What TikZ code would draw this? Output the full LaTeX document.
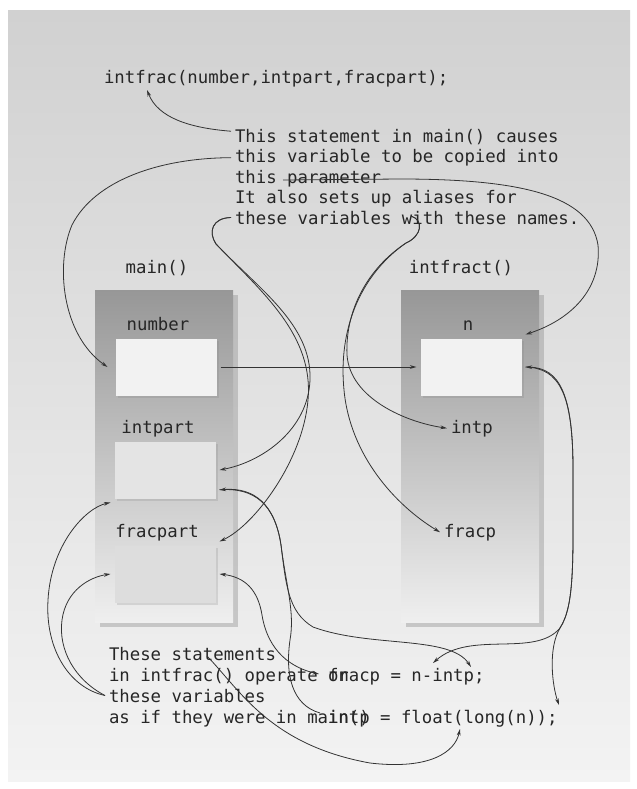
\documentclass[tikz,border=0pt]{standalone}
\usepackage{fontspec}
\setmonofont{DejaVu Sans Mono}
\usetikzlibrary{arrows.meta,shadows}
\definecolor{panelTop}{HTML}{D1D1D1}
\definecolor{panelBot}{HTML}{F3F3F3}
\definecolor{frameTop}{HTML}{979797}
\definecolor{frameBot}{HTML}{EFEFEF}
\definecolor{cellA}{HTML}{F2F2F2}
\definecolor{cellB}{HTML}{E4E4E4}
\definecolor{cellC}{HTML}{DDDDDD}
\definecolor{codeInk}{HTML}{262626}
\definecolor{linkInk}{HTML}{333333}

\tikzset{
  code/.style={font=\ttfamily\fontsize{13}{15.6}\selectfont,text=codeInk,
               inner sep=0pt,outer sep=3pt},
  stackbox/.style={minimum width=103.5pt,minimum height=249pt,
               top color=frameTop,bottom color=frameBot,
               drop shadow={shadow xshift=3.5pt,shadow yshift=-3.5pt,opacity=.35}},
  cell/.style={minimum width=75.75pt,minimum height=42.75pt,outer sep=3pt,
               drop shadow={shadow xshift=1.5pt,shadow yshift=-2pt,opacity=.22}},
  wire/.style={draw=linkInk,line width=.6pt},
  link/.style={wire,-{Stealth[length=5pt,width=2.8pt]}},
  twoway/.style={wire,{Stealth[length=5pt,width=2.8pt]}-{Stealth[length=5pt,width=2.8pt]}},
}

\begin{document}
\begin{tikzpicture}[x=0.75pt,y=-0.75pt]
  \useasboundingbox (0,0) rectangle (636,789);
  \shade[top color=panelTop,bottom color=panelBot] (8,10) rectangle (630,781);

  % the two frames and their cells
  \node[stackbox] (mainf) at (164,456) {};
  \node[stackbox] (subf)  at (470,456) {};
  \node[cell,fill=cellA] (number)   at (166,367) {};
  \node[cell,fill=cellB] (intpart)  at (165,470) {};
  \node[cell,fill=cellC] (fracpart) at (165,574) {};
  \node[cell,fill=cellA] (n)        at (471,367) {};

  \node[code,anchor=base] (lbl-main) at (157,273) {main()};
  \node[code,anchor=base] (lbl-sub)  at (461,273) {intfract()};
  \foreach \nm/\x/\y in {number/158/330, intpart/158/433, fracpart/157/537}
     { \node[code,anchor=base] (lbl-\nm) at (\x,\y) {\nm}; }
  \node[code,anchor=base] (lbl-n) at (468,330) {n};
  \node[code,anchor=base west] (intp)  at (447,433) {intp};
  \node[code,anchor=base west] (fracp) at (440,537) {fracp};

  % the call and the notes round it
  \node[code,anchor=base west] (call) at (100,83) {intfrac(number,intpart,fracpart);};
  \foreach \txt [count=\i] in {This statement in main() causes,
                               this variable to be copied into,
                               this parameter,
                               It also sets up aliases for,
                               these variables with these names.}
     { \node[code,anchor=base west] (cap\i) at (231,{142+20.5*(\i-1)}) {\txt}; }
  \foreach \txt [count=\i] in {These statements,
                               in intfrac() operate on,
                               these variables,
                               as if they were in main()}
     { \node[code,anchor=base west] (note\i) at (105,{660+21*(\i-1)}) {\txt}; }
  \node[code,anchor=base west] (stmt1) at (324,681) {fracp = n-intp;};
  \node[code,anchor=base west] (stmt2) at (324,723) {intp = float(long(n));};

  \coordinate (callf) at (147,90);
  \coordinate (parm)  at (283,180);
  \coordinate (with)  at (411,216);
  \coordinate (stats) at (207,656);
  \coordinate (stF)   at (319,674);
  \coordinate (stN)   at (433,663);
  \coordinate (stI)   at (471,667);
  \coordinate (st2I)  at (320,713);
  \coordinate (stL)   at (460,729);
  \coordinate (st2N)  at (559,705);

  % upper notes
  \draw[link] ([yshift=4pt]cap1.west) .. controls (190,128) and (158,118) .. (callf);
  \draw[link] (cap2.west) .. controls (160,158) and (95,180) .. (72,225)
        .. controls (55,265) and (62,335) .. ([xshift=-3pt]number.west);
  \draw[link] (parm) -- (400,179) .. controls (520,179) and (590,195) .. (598,245)
        .. controls (602,290) and (570,320) .. (n.north east);
  \draw[link] (cap5.west) .. controls (212,218) and (208,232) .. (216,244)
        .. controls (260,290) and (312,325) .. (310,380)
        .. controls (308,430) and (262,462) .. (intpart.east);
  \draw[link] (cap5.west) .. controls (212,218) and (208,232) .. (216,244)
        .. controls (262,292) and (314,335) .. (308,400)
        .. controls (303,460) and (255,525) .. (fracpart.north east);
  \draw[link] (with) .. controls (424,220) and (422,236) .. (406,243)
        .. controls (368,268) and (345,310) .. (347,355)
        .. controls (350,398) and (405,422) .. (intp.west);
  \draw[link] (with) .. controls (424,220) and (422,236) .. (406,243)
        .. controls (360,275) and (338,330) .. (344,390)
        .. controls (350,455) and (395,505) .. (fracp.west);
  \draw[link] (number.east) -- (n.west);

  % statements back to the variables
  \draw[twoway] (n.east) .. controls (560,368) and (573,395) .. (573,470)
        .. controls (573,560) and (575,605) .. (560,628)
        .. controls (535,658) and (470,630) .. (stN);
  \draw[link] (n.east) .. controls (560,368) and (573,395) .. (573,470)
        .. controls (573,560) and (575,605) .. (560,628)
        .. controls (548,648) and (552,685) .. (st2N);
  \draw[twoway] (intpart.-20) .. controls (255,487) and (275,505) .. (281,545)
        .. controls (286,585) and (288,612) .. (313,627)
        .. controls (370,648) and (450,635) .. (stI);
  \draw[wire] (intpart.-20) .. controls (255,487) and (275,505) .. (281,545)
        .. controls (286,585) and (295,612) .. (290,640)
        .. controls (285,675) and (292,705) .. (st2I);
  \draw[twoway] (fracpart.east) .. controls (245,577) and (258,590) .. (262,615)
        .. controls (268,652) and (292,668) .. (stF);
  \draw[link] (stats) .. controls (240,690) and (270,745) .. (370,763)
        .. controls (430,770) and (455,752) .. (stL);

  % lower note to the cells of main()
  \draw[link] (note3.west) .. controls (70,688) and (45,650) .. (48,600)
        .. controls (51,545) and (85,508) .. (intpart.south west);
  \draw[link] (note3.west) .. controls (75,680) and (58,650) .. (62,620)
        .. controls (66,590) and (90,577) .. (fracpart.west);
\end{tikzpicture}
\end{document}
